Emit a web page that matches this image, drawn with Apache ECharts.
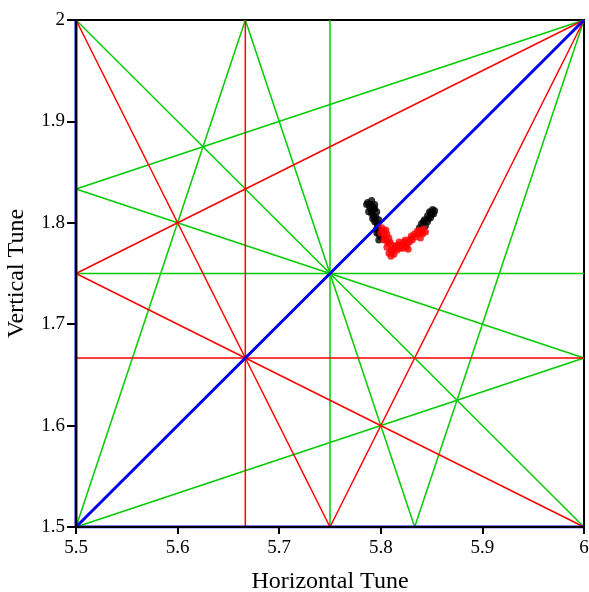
<!DOCTYPE html>
<html>
<head>
<meta charset="utf-8">
<script src="https://cdn.jsdelivr.net/npm/echarts@6/dist/echarts.min.js"></script>
<style>
html,body{margin:0;padding:0;background:#fff;}
#main{width:589px;height:592px;}
</style>
</head>
<body>
<div id="main"></div>
<script>
// resonance lines, each entry is [x1, y1, x2, y2]
var blueLines = [
    [5.5, 1.5, 6, 2],
    [5.5, 1.5, 6, 1.5],
    [5.5, 1.5, 5.5, 2]
];
var redLines = [
    [17/3, 1.5, 17/3, 2],
    [5.5, 5/3, 6, 5/3],
    [5.5, 2, 5.75, 1.5],
    [5.75, 1.5, 6, 2],
    [5.5, 1.75, 6, 2],
    [5.5, 1.75, 6, 1.5]
];
var greenLines = [
    [5.75, 1.5, 5.75, 2],
    [5.5, 1.75, 6, 1.75],
    [5.5, 2, 6, 1.5],
    [5.5, 11/6, 6, 2],
    [5.5, 11/6, 6, 5/3],
    [5.5, 1.5, 6, 5/3],
    [5.5, 1.5, 17/3, 2],
    [17/3, 2, 35/6, 1.5],
    [35/6, 1.5, 6, 2]
];
// measured tunes
var blackPoints = [
    [5.787,1.820],[5.791,1.822],[5.794,1.818],[5.789,1.815],[5.793,1.813],[5.796,1.811],
    [5.786,1.818],[5.790,1.818],[5.792,1.816],[5.788,1.811],[5.791,1.812],[5.794,1.814],
    [5.791,1.809],[5.795,1.806],[5.798,1.803],[5.794,1.801],[5.797,1.797],[5.799,1.793],
    [5.793,1.806],[5.792,1.804],[5.796,1.800],[5.796,1.794],[5.798,1.789],
    [5.796,1.790],[5.800,1.786],[5.798,1.783],
    [5.851,1.813],[5.848,1.811],[5.852,1.809],[5.846,1.807],[5.849,1.805],[5.843,1.803],
    [5.846,1.801],[5.840,1.799],[5.844,1.797],[5.838,1.795],[5.850,1.808],[5.847,1.804],
    [5.842,1.801],[5.853,1.812],[5.849,1.810]
];
var redPoints = [
    [5.801,1.795],[5.805,1.793],[5.800,1.790],[5.804,1.787],[5.808,1.785],[5.803,1.783],
    [5.807,1.780],[5.811,1.778],[5.806,1.776],[5.810,1.773],[5.808,1.770],[5.813,1.769],
    [5.816,1.773],[5.819,1.775],[5.815,1.777],[5.822,1.779],[5.825,1.776],[5.828,1.781],
    [5.824,1.783],[5.831,1.783],[5.834,1.786],[5.830,1.787],[5.837,1.789],[5.840,1.791],
    [5.836,1.792],[5.842,1.794],[5.844,1.791],[5.839,1.785],[5.827,1.774],[5.818,1.781],
    [5.803,1.792],[5.806,1.789],[5.805,1.783],[5.809,1.781],[5.812,1.774],[5.811,1.771],
    [5.814,1.775],[5.817,1.778],[5.820,1.778],[5.823,1.781],[5.826,1.779],[5.829,1.784],
    [5.833,1.789],[5.838,1.792],[5.841,1.789],[5.822,1.775],[5.810,1.767]
];

var font = 'Liberation Serif';

function lineSeries(list, color, width, z)
{
    var out = [];
    for (var i = 0; i < list.length; i++)
    {
        var s = list[i];
        out.push({
            type: 'line',
            data: [[s[0], s[1]], [s[2], s[3]]],
            symbol: 'none',
            silent: true,
            z: z,
            lineStyle: {color: color, width: width}
        });
    }
    return out;
}

var series = [];
series.push({
    type: 'scatter',
    data: blackPoints,
    symbolSize: 7,
    itemStyle: {color: '#000'},
    z: 1
});
series = series.concat(lineSeries(greenLines, '#00cc00', 1.5, 2));
series = series.concat(lineSeries(redLines, '#ff0000', 1.5, 2));
series = series.concat(lineSeries(blueLines, '#0000ee', 3, 2));
series.push({
    type: 'scatter',
    data: redPoints,
    symbolSize: 7,
    itemStyle: {color: '#ff0000'},
    z: 3
});

var myChart = echarts.init(document.getElementById('main'));
var option = {
    animation: false,
    backgroundColor: '#fff',
    grid: {
        left: 76, right: 5, top: 20, bottom: 65,
        containLabel: false,
        outerBoundsMode: 'none',
        show: true,
        borderColor: '#000',
        borderWidth: 2
    },
    xAxis: {
        type: 'value',
        z: 10,
        min: 5.5, max: 6, interval: 0.1,
        name: 'Horizontal Tune',
        nameLocation: 'middle',
        nameGap: 43,
        nameTextStyle: {fontFamily: font, fontSize: 24, color: '#000'},
        axisLine: {lineStyle: {color: '#000', width: 2}},
        axisTick: {length: 7, lineStyle: {color: '#000', width: 2}},
        axisLabel: {fontFamily: font, fontSize: 19, color: '#000', margin: 12},
        splitLine: {show: false}
    },
    yAxis: {
        type: 'value',
        z: 10,
        min: 1.5, max: 2, interval: 0.1,
        name: 'Vertical Tune',
        nameLocation: 'middle',
        nameGap: 47,
        nameTextStyle: {fontFamily: font, fontSize: 24, color: '#000'},
        axisLine: {lineStyle: {color: '#000', width: 2}},
        axisTick: {length: 9, lineStyle: {color: '#000', width: 2}},
        axisLabel: {fontFamily: font, fontSize: 19, color: '#000', margin: 11},
        splitLine: {show: false}
    },
    series: series
};
myChart.setOption(option);
</script>
</body>
</html>
